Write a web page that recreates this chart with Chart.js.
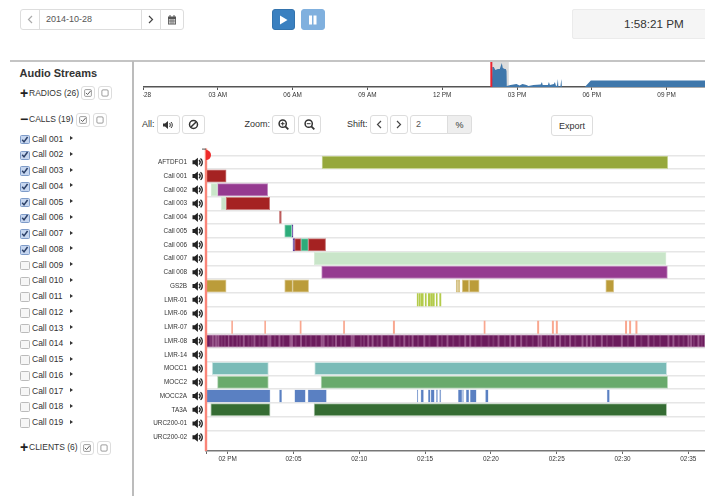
<!DOCTYPE html>
<html>
<head>
<meta charset="utf-8">
<script src="https://cdn.jsdelivr.net/npm/chart.js@4"></script>
<style>
  html, body { margin: 0; padding: 0; background: #fff; overflow: hidden; }
  body { width: 705px; height: 496px; position: relative; font-family: 'Liberation Sans', sans-serif; color: #333; }
  .abs { position: absolute; white-space: nowrap; }
  .btn { position: absolute; box-sizing: border-box; border: 1px solid #ddd; border-radius: 3px; background: #fff;
         display: flex; align-items: center; justify-content: center; font-size: 9px; color: #333; }
  .row-text { font-size: 8.5px; line-height: 14px; }
  canvas { position: absolute; display: block; }
  svg { display: block; }
</style>
</head>
<body>
<div id="ui"></div>
<canvas id="overview" width="563" height="38" style="left:142.7px;top:62px;width:563px;height:38px"></canvas>
<canvas id="timeline" width="571" height="323" style="left:134px;top:145px;width:571px;height:323px"></canvas>

<script>
// ---- timeline values (minutes after 2 PM) ----
const rows = ['', 'AFTDFO1', 'Call 001', 'Call 002', 'Call 003', 'Call 004', 'Call 005', 'Call 006', 'Call 007', 'Call 008',
  'GS2B', 'LMR-01', 'LMR-06', 'LMR-07', 'LMR-08', 'LMR-14', 'MOCC1', 'MOCC2', 'MOCC2A', 'TA3A', 'URC200-01', 'URC200-02', ' '];

const timeStart = -1.65;
const timeEnd = 36.27;
const timeTicks = [-1.65, 0, 5, 10, 15, 20, 25, 30, 35];
const timeTickLabels = ['', '02 PM', '02:05', '02:10', '02:15', '02:20', '02:25', '02:30', '02:35'];

const oliveBars = [['AFTDFO1', 7.17, 33.44]];
const redBars = [['Call 001', -1.65, -0.12], ['Call 003', -0.12, 3.19], ['Call 004', 3.93, 4.08], ['Call 006', 5.09, 5.57], ['Call 006', 6.13, 7.44]];
const paleGreenBars = [['Call 002', -1.26, -0.78], ['Call 003', -0.48, -0.12], ['Call 007', 6.58, 33.31]];
const purpleBars = [['Call 002', -0.78, 3.04], ['Call 008', 7.14, 33.41]];
const greenBars = [['Call 005', 4.33, 4.86], ['Call 006', 5.57, 6.13]];
const indigoBars = [['Call 005', 4.86, 4.96], ['Call 006', 4.96, 5.09]];
const goldBars = [['GS2B', -1.65, -0.12], ['GS2B', 4.33, 4.93], ['GS2B', 4.93, 6.15], ['GS2B', 17.36, 17.47], ['GS2B', 17.52, 17.64],
  ['GS2B', 17.82, 18.33], ['GS2B', 18.36, 19.11], ['GS2B', 28.73, 29.34]];
const limeBars = [['LMR-01', 14.40, 14.48], ['LMR-01', 14.56, 14.64], ['LMR-01', 14.71, 14.86], ['LMR-01', 15.01, 15.09],
  ['LMR-01', 15.24, 15.36], ['LMR-01', 15.42, 15.56], ['LMR-01', 15.60, 15.70], ['LMR-01', 15.85, 15.92], ['LMR-01', 16.11, 16.20]];
const salmonBars = [['LMR-07', 0.30, 0.37], ['LMR-07', 2.81, 2.88], ['LMR-07', 5.50, 5.58], ['LMR-07', 8.80, 8.88], ['LMR-07', 12.58, 12.68],
  ['LMR-07', 19.48, 19.56], ['LMR-07', 23.54, 23.64], ['LMR-07', 24.66, 24.76], ['LMR-07', 24.96, 25.06], ['LMR-07', 30.22, 30.32],
  ['LMR-07', 30.53, 30.63], ['LMR-07', 31.01, 31.11]];
const plumBars = [['LMR-08', -1.65, 36.27]];
const plumStrongStripes = [-1.14, -0.88, -0.71, 0.05, 1.22, 2.03, 3.09, 3.24, 3.93, 4.76, 4.89, 5.57, 7.14, 7.29, 8.23, 9.42, 9.57, 10.68,
  11.01, 11.70, 12.66, 13.42, 14.05, 14.94, 15.95, 16.70, 18.05, 18.43, 20.58, 21.47, 21.85, 22.30, 23.62, 23.82, 24.88, 25.26, 26.02,
  26.96, 27.29, 27.62, 28.43, 29.95, 30.96, 31.97, 33.49, 33.87, 35.01, 35.21, 35.77];
const plumFaintStripes = [-1.32, -1.02, -0.46, -0.22, 0.38, 0.71, 0.94, 1.58, 1.83, 2.42, 2.71, 3.58, 4.22, 5.16, 5.94, 6.31, 6.72, 7.62, 7.97,
  8.61, 8.92, 10.12, 10.36, 11.38, 12.21, 13.07, 13.78, 14.47, 15.33, 16.28, 17.14, 17.62, 18.82, 19.27, 19.83, 20.19, 21.06, 22.71, 23.18,
  24.27, 24.51, 25.64, 26.41, 27.91, 28.82, 29.27, 30.41, 31.43, 32.38, 32.86, 34.27, 34.64, 35.42, 36.02];
const tealBars = [['MOCC1', -1.18, 3.09], ['MOCC1', 6.61, 33.36]];
const leafBars = [['MOCC2', -0.78, 3.09], ['MOCC2', 7.09, 33.44]];
const blueBars = [['MOCC2A', -1.65, 3.22], ['MOCC2A', 3.93, 4.10], ['MOCC2A', 5.09, 5.90], ['MOCC2A', 6.10, 7.50],
  ['MOCC2A', 14.40, 14.46], ['MOCC2A', 14.68, 14.88], ['MOCC2A', 15.24, 15.39], ['MOCC2A', 15.44, 15.70], ['MOCC2A', 15.85, 15.95], ['MOCC2A', 16.10, 16.20],
  ['MOCC2A', 17.52, 17.80], ['MOCC2A', 17.84, 17.92], ['MOCC2A', 18.12, 18.33], ['MOCC2A', 18.43, 18.89], ['MOCC2A', 19.59, 19.80], ['MOCC2A', 28.83, 29.01]];
const forestBars = [['TA3A', -1.29, 3.22], ['TA3A', 6.56, 33.36]];

// ---- overview strip values (hours after midnight) ----
const overviewHours = [13.99, 14.01, 14.07, 14.13, 14.23, 14.31, 14.35, 14.39, 14.43, 14.51, 14.55, 14.58, 14.59, 14.74, 14.98, 15.10, 15.22, 15.38,
  15.46, 15.66, 15.95, 16.00, 16.03, 16.24, 16.28, 16.32, 16.48, 16.52, 16.56, 16.60, 16.64, 16.66, 16.74, 16.78, 16.80, 17.72, 17.96, 22.58];
const overviewVolume = [0, 20, 20, 17, 18, 18, 21, 24, 19, 18, 18, 16, 1, 2, 3, 1.5, 3, 2,
  1, 2, 2.5, 5, 2, 2, 5, 2, 3, 5, 1.5, 1, 8, 0.5, 0.5, 8, 0, 0, 6.5, 6.5];
const overviewTicks = [0, 3, 6, 9, 12, 15, 18, 21];
const overviewTickLabels = ['10-28', '03 AM', '06 AM', '09 AM', '12 PM', '03 PM', '06 PM', '09 PM'];
const brushStart = 13.97;
const brushEnd = 14.67;

// ---- sidebar values ----
const callNames = ['Call 001', 'Call 002', 'Call 003', 'Call 004', 'Call 005', 'Call 006', 'Call 007', 'Call 008', 'Call 009', 'Call 010',
  'Call 011', 'Call 012', 'Call 013', 'Call 014', 'Call 015', 'Call 016', 'Call 017', 'Call 018', 'Call 019'];
const callsChecked = 8;

// ---- page chrome ----
const ui = document.getElementById('ui');
function box(css, html, cls) {
  const d = document.createElement('div');
  d.className = cls || 'abs';
  d.style.cssText = css;
  d.innerHTML = html || '';
  ui.appendChild(d);
  return d;
}
function button(x, y, w, h, html, extra) {
  return box(`left:${x}px;top:${y}px;width:${w}px;height:${h}px;${extra || ''}`, html, 'btn');
}
const icon = {
  left: '<svg width="6" height="9" viewBox="0 0 6 9"><path d="M5 1L1.5 4.5L5 8" fill="none" stroke="#444" stroke-width="1.2"/></svg>',
  right: '<svg width="6" height="9" viewBox="0 0 6 9"><path d="M1 1L4.5 4.5L1 8" fill="none" stroke="#444" stroke-width="1.2"/></svg>',
  paleLeft: '<svg width="6" height="9" viewBox="0 0 6 9"><path d="M5 1L1.5 4.5L5 8" fill="none" stroke="#aaa" stroke-width="1.2"/></svg>',
  calendar: '<svg width="10" height="10" viewBox="0 0 10 10"><rect x="1" y="1.5" width="8" height="8" fill="#555"/><path d="M1.8 4h6.4v4.7H1.8z" fill="#ccc"/><path d="M3 0v2M7 0v2" stroke="#555" stroke-width="1"/><path d="M1.8 6h6.4M4 4v5M6 4v5" stroke="#555" stroke-width=".6"/></svg>',
  play: '<svg width="9" height="10" viewBox="0 0 9 10"><path d="M1 .5L8.5 5L1 9.5z" fill="#fff"/></svg>',
  pause: '<svg width="9" height="10" viewBox="0 0 9 10"><path d="M1 .5h3v9H1zM5.5 .5h3v9h-3z" fill="#fff"/></svg>',
  check: '<svg width="8" height="8" viewBox="0 0 9 9"><rect x=".7" y=".7" width="7.6" height="7.6" rx="1" fill="none" stroke="#777" stroke-width=".8"/><path d="M2.2 4.4L4 6.2L7.6 2" fill="none" stroke="#444" stroke-width="1"/></svg>',
  uncheck: '<svg width="8" height="8" viewBox="0 0 9 9"><rect x="1" y="1" width="7" height="7" rx="1.2" fill="none" stroke="#777" stroke-width=".8"/></svg>',
  speaker: '<svg width="12" height="10" viewBox="0 0 12 10"><path d="M0 3.5h2L5 1v8L2 6.5H0z" fill="#333"/><path d="M6.5 3c1 1 1 3 0 4M8 2c1.7 1.6 1.7 4.4 0 6" fill="none" stroke="#333" stroke-width="1"/></svg>',
  ban: '<svg width="11" height="11" viewBox="0 0 11 11"><circle cx="5.5" cy="5.5" r="4" fill="none" stroke="#333" stroke-width="1.5"/><path d="M2.7 8.3L8.3 2.7" stroke="#333" stroke-width="1.5"/></svg>',
  zoomIn: '<svg width="11" height="11" viewBox="0 0 11 11"><circle cx="4.7" cy="4.7" r="3.6" fill="none" stroke="#333" stroke-width="1.5"/><path d="M7.3 7.3L10.3 10.3" stroke="#333" stroke-width="1.8"/><path d="M2.8 4.7h3.8M4.7 2.8v3.8" stroke="#333" stroke-width="1"/></svg>',
  zoomOut: '<svg width="11" height="11" viewBox="0 0 11 11"><circle cx="4.7" cy="4.7" r="3.6" fill="none" stroke="#333" stroke-width="1.5"/><path d="M7.3 7.3L10.3 10.3" stroke="#333" stroke-width="1.8"/><path d="M2.8 4.7h3.8" stroke="#333" stroke-width="1"/></svg>'
};

// date picker, play controls, clock
button(20, 9, 20, 21, icon.paleLeft, 'border-radius:3px 0 0 3px');
button(39, 9, 103, 21, '', 'border-radius:0');
box('left:46px;top:12px;font-size:9px;line-height:15px;color:#555', '2014-10-28');
button(141, 9, 20, 21, icon.right, 'border-radius:0');
button(160, 9, 24, 21, icon.calendar, 'border-radius:0 3px 3px 0');
button(271.5, 9, 23.5, 21, icon.play, 'background:#3a80c0;border-color:#3373ad');
button(300.5, 9, 24, 21, icon.pause, 'background:#80b0de;border-color:#80b0de');
box('left:572px;top:9px;width:140px;height:29.5px;box-sizing:border-box;background:#f5f5f5;border:1px solid #ebebeb;border-radius:2px');
box('left:624px;top:16px;font-size:11.7px;line-height:15px', '1:58:21 PM');

// frame lines
box('left:10px;top:60px;width:695px;height:2px;background:#c4c4c4');
box('left:132px;top:61px;width:1.5px;height:435px;background:#bcbcbc');

// toolbar above timeline
box('left:142px;top:117px;font-size:9px;line-height:14px', 'All:');
button(157, 115, 23, 19, icon.speaker);
button(182, 115, 23, 19, icon.ban);
box('left:244.5px;top:117px;font-size:9px;line-height:14px', 'Zoom:');
button(272, 115, 23, 19, icon.zoomIn);
button(298, 115, 23, 19, icon.zoomOut);
box('left:347px;top:117px;font-size:9px;line-height:14px', 'Shift:');
button(370, 115, 17.5, 19, icon.left);
button(390, 115, 17.5, 19, icon.right);
button(410, 115, 38, 19, '', 'border-radius:3px 0 0 3px');
box('left:416px;top:117px;font-size:9px;line-height:14px;color:#555', '2');
button(447, 115, 25, 19, '%', 'background:#eee;border-radius:0 3px 3px 0');
button(551, 115, 42, 21, 'Export');

// sidebar
box('left:19.5px;top:66px;font-size:11px;line-height:15px;font-weight:bold;color:#333', 'Audio Streams');
function groupHeader(sign, text, y, btnA, btnB) {
  box(`left:20px;top:${y - 8}px;font-size:14px;line-height:16px;font-weight:bold;color:#222`, sign);
  box(`left:29px;top:${y - 7}px`, text, 'abs row-text');
  button(btnA, y - 6.5, 14, 14, icon.check);
  button(btnB, y - 6.5, 14, 14, icon.uncheck);
}
groupHeader('+', 'RADIOS (26)', 92.5, 81, 97.5);
groupHeader('\u2212', 'CALLS (19)', 119, 76, 93);
groupHeader('+', 'CLIENTS (6)', 447, 80, 96.5);
callNames.forEach((name, i) => {
  const y = 138.7 + i * 15.74;
  const on = i < callsChecked;
  const mark = on
    ? '<svg width="8" height="8" viewBox="0 0 8 8"><path d="M1.3 3.8L3.2 6L7 .8" fill="none" stroke="#2b3f66" stroke-width="1.6"/></svg>'
    : '';
  box(`left:20px;top:${y - 3.8}px;width:7.5px;height:7.5px;box-sizing:content-box;border:.5px solid ${on ? '#7f9cc9' : '#bbb'};border-radius:1.5px;` +
      `background:${on ? '#c6d6ef' : '#f6f6f6'};display:flex;align-items:center;justify-content:center`, mark);
  box(`left:32px;top:${y - 7}px`, name, 'abs row-text');
  box(`left:70px;top:${y - 2.5}px;width:0;height:0;border-left:3.5px solid #333;border-top:2.5px solid transparent;border-bottom:2.5px solid transparent`);
});

// ---- timeline chart ----
const tickFont = { family: "'Liberation Sans', sans-serif", size: 6.4 };
const toBars = list => list.map(([row, start, end]) => ({ x: [start, end], y: row }));
const toStripes = (list, half) => list.map(t => ({ x: [t - half, t + half], y: 'LMR-08' }));

function barSeries(data, color, edge, edgeWidth) {
  return { data, backgroundColor: color, borderColor: edge, borderWidth: edge ? (edgeWidth || 1) : 0, borderSkipped: false, barThickness: 12.4, grouped: false };
}

const cursorPlugin = {
  id: 'cursor',
  afterDatasetsDraw(chart) {
    const { ctx, scales: { x, y } } = chart;
    const cx = x.getPixelForValue(timeStart);
    ctx.save();
    // speaker glyph per row
    ctx.fillStyle = '#222';
    ctx.strokeStyle = '#222';
    rows.forEach((label, i) => {
      if (!label.trim()) return;
      const py = y.getPixelForValue(i);
      const lx = cx - 13.5;
      ctx.beginPath();
      ctx.moveTo(lx, py - 2);
      ctx.lineTo(lx + 2.2, py - 2);
      ctx.lineTo(lx + 5.4, py - 4.6);
      ctx.lineTo(lx + 5.4, py + 4.6);
      ctx.lineTo(lx + 2.2, py + 2);
      ctx.lineTo(lx, py + 2);
      ctx.closePath();
      ctx.fill();
      ctx.lineWidth = 1.3;
      ctx.beginPath();
      ctx.arc(lx + 5, py, 2.6, -1, 1);
      ctx.stroke();
      ctx.beginPath();
      ctx.arc(lx + 5, py, 4.8, -0.9, 0.9);
      ctx.stroke();
    });
    // playhead
    ctx.strokeStyle = '#fa8578';
    ctx.lineWidth = 2.4;
    ctx.beginPath();
    ctx.moveTo(cx, y.top);
    ctx.lineTo(cx, y.bottom);
    ctx.stroke();
    ctx.fillStyle = '#ee2a2a';
    ctx.beginPath();
    ctx.arc(cx, y.top + 6.5, 5, -Math.PI / 2, Math.PI / 2);
    ctx.fill();
    ctx.strokeStyle = '#555';
    ctx.lineWidth = 1;
    ctx.beginPath();
    ctx.moveTo(cx - 4, y.top + 0.5);
    ctx.lineTo(cx, y.top + 0.5);
    ctx.stroke();
    ctx.restore();
  }
};

new Chart(document.getElementById('timeline'), {
  type: 'bar',
  plugins: [cursorPlugin],
  data: {
    labels: rows,
    // first dataset is painted last, so the stripes sit ahead of the plum band
    datasets: [
      barSeries(toStripes(plumStrongStripes, 0.05), 'rgba(215,170,205,.42)', null),
      barSeries(toStripes(plumFaintStripes, 0.05), 'rgba(190,140,180,.22)', null),
      barSeries(toBars(plumBars), '#6b1b5c', '#b58aad'),
      barSeries(toBars(oliveBars), '#96a83c', '#c9d598'),
      barSeries(toBars(redBars), '#a52222', '#c97c7c'),
      barSeries(toBars(paleGreenBars), '#c9e5c9', '#d8edd8'),
      barSeries(toBars(purpleBars), '#953a90', '#c48ec1'),
      barSeries(toBars(greenBars), '#2cac7a', '#8cd2b6'),
      barSeries(toBars(indigoBars), '#5a3a9a', '#5a3a9a'),
      barSeries(toBars(goldBars), '#bb9c3a', '#dccb95'),
      barSeries(toBars(limeBars), '#b3cb4a', null),
      barSeries(toBars(salmonBars), '#f9a78f', null),
      barSeries(toBars(tealBars), '#7abbb7', '#cde5e3'),
      barSeries(toBars(leafBars), '#69aa6c', '#c0dcc1'),
      barSeries(toBars(blueBars), '#5a80c2', '#bacbe6', 0.6),
      barSeries(toBars(forestBars), '#356c33', '#b4cbb3')
    ]
  },
  options: {
    indexAxis: 'y',
    responsive: false,
    animation: false,
    devicePixelRatio: 1,
    layout: { padding: { top: 3.6, left: 0, right: 0, bottom: 0 } },
    plugins: { legend: { display: false }, tooltip: { enabled: false } },
    scales: {
      x: {
        type: 'linear',
        min: timeStart,
        max: timeEnd,
        afterBuildTicks: s => { s.ticks = timeTicks.map(value => ({ value })); },
        afterFit: s => { s.height = 17; s.paddingLeft = 0; s.paddingRight = 0; },
        ticks: {
          autoSkip: false,
          maxRotation: 0,
          padding: 1,
          color: '#333',
          font: tickFont,
          callback: (v, i) => timeTickLabels[i]
        },
        grid: { drawOnChartArea: false, color: '#666', tickLength: 3 },
        border: { color: '#777', width: 1.5 }
      },
      y: {
        type: 'category',
        offset: false,
        afterFit: s => { s.width = 72; s.paddingTop = 0; s.paddingBottom = 0; },
        ticks: { autoSkip: false, padding: 19, color: '#333', font: tickFont },
        grid: {
          drawTicks: false,
          lineWidth: 1.5,
          color: c => (c.index === 0 || c.index === rows.length - 1) ? 'transparent' : '#e6e6e6'
        },
        border: { display: false }
      }
    }
  }
});

// ---- overview strip ----
const brushPlugin = {
  id: 'brush',
  beforeDatasetsDraw(chart) {
    const { ctx, chartArea, scales: { x } } = chart;
    const a = x.getPixelForValue(brushStart);
    const b = x.getPixelForValue(brushEnd);
    ctx.save();
    ctx.fillStyle = '#dcdcdc';
    ctx.fillRect(a, chartArea.top, b - a, chartArea.bottom - chartArea.top);
    ctx.restore();
  },
  afterDatasetsDraw(chart) {
    const { ctx, chartArea, scales: { x } } = chart;
    const a = x.getPixelForValue(brushStart);
    ctx.save();
    ctx.strokeStyle = '#ea2330';
    ctx.lineWidth = 2;
    ctx.beginPath();
    ctx.moveTo(a, chartArea.top);
    ctx.lineTo(a, chartArea.bottom);
    ctx.stroke();
    ctx.restore();
  }
};

new Chart(document.getElementById('overview'), {
  type: 'line',
  plugins: [brushPlugin],
  data: {
    datasets: [{
      data: overviewHours.map((h, i) => ({ x: h, y: overviewVolume[i] })),
      borderColor: '#3f77ab',
      backgroundColor: '#3f77ab',
      borderWidth: 0,
      pointRadius: 0,
      tension: 0,
      fill: 'origin'
    }]
  },
  options: {
    responsive: false,
    animation: false,
    devicePixelRatio: 1,
    layout: { padding: 0 },
    plugins: { legend: { display: false }, tooltip: { enabled: false } },
    scales: {
      x: {
        type: 'linear',
        min: 0,
        max: 22.58,
        afterBuildTicks: s => { s.ticks = overviewTicks.map(value => ({ value })); },
        afterFit: s => { s.height = 13; s.paddingLeft = 0; s.paddingRight = 0; },
        ticks: {
          autoSkip: false,
          maxRotation: 0,
          padding: 1,
          color: '#333',
          font: tickFont,
          callback: (v, i) => overviewTickLabels[i]
        },
        grid: { drawOnChartArea: false, color: '#555', tickLength: 3 },
        border: { color: '#555', width: 1.5 }
      },
      y: { display: false, min: 0, max: 25 }
    }
  }
});
</script>
</body>
</html>
